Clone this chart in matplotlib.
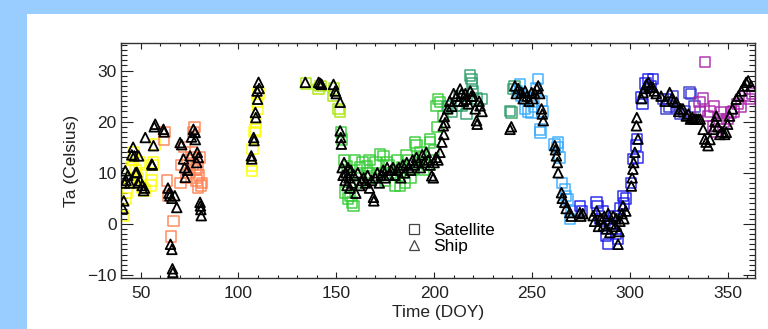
import matplotlib
matplotlib.use("Agg")
import matplotlib.pyplot as plt
from matplotlib.lines import Line2D
from matplotlib.patches import Rectangle
from matplotlib.ticker import MultipleLocator

plt.rcParams['font.family'] = ['Liberation Sans', 'DejaVu Sans']

# ---------------- data ----------------
leg_colors = ['#ffff00', '#ff8050', '#ffff00', '#a6e600', '#33cc33',
              '#2e9e6b', '#33aaff', '#1a1aee', '#3333cc', '#aa22aa']

sat_doy = [41.5, 42.5, 43.0, 45.0, 46.0, 47.5, 48.5, 50.0, 51.0, 52.0, 55.0, 55.5, 56.0, 56.5, 57.5, 46.5, 44.0, 49.5,
           62.0, 62.2, 63.5, 64.0, 66.8, 65.5, 70.5, 71.0, 72.5, 74.0, 76.0, 77.0, 77.5, 78.5, 79.0, 80.0, 80.5, 81.0, 81.5, 73.5, 75.0,
           76.5, 78.0, 79.5, 77.0,
           107.0, 107.0, 107.2, 108.2, 108.7, 109.0, 109.5, 110.3, 110.0,
           134.5, 141.0, 142.0, 148.6, 149.0, 151.2, 152.0,
           152.5, 153.0, 154.0, 154.6, 155.4, 156.0, 157.1, 158.0, 158.8, 159.5, 162.0, 165.6, 167.0, 170.0, 172.4, 174.1,
           176.0, 178.0, 180.0, 182.7, 185.0, 186.0, 188.0, 190.3, 191.1, 193.0, 195.0, 198.0, 198.0, 200.0, 201.4, 201.3,
           202.0, 203.0, 204.5, 162.0, 168.0, 175.0, 184.0,
           160.5, 163.5, 166.5, 171.0, 177.0, 181.0, 183.5, 187.0, 189.0, 192.0, 194.5, 196.5,
           207.0, 209.0, 211.5, 214.0, 216.6, 218.4, 219.2, 219.5, 220.0, 222.0, 224.3, 213.0, 238.8, 239.6, 240.5, 241.0,
           243.9, 244.5, 246.4, 248.0, 249.8, 251.0, 253.2, 254.1, 254.3, 255.0, 261.5, 263.4, 263.0, 264.0, 265.5, 266.8,
           267.5, 268.5, 269.4, 270.0, 242.5, 247.0, 252.0, 255.5,
           274.5, 275.5, 283.0, 283.5, 285.0, 286.0, 288.0, 288.9, 290.0, 291.0, 293.0, 295.0, 296.5, 297.0, 300.5, 301.6,
           303.3, 303.8, 304.0, 305.9, 306.5, 308.0, 309.3, 310.5, 311.8, 287.0, 292.0, 294.0, 298.0,
           316.9, 318.6, 318.6, 320.0, 322.0, 324.0, 326.0, 328.0, 330.5, 331.4, 333.0,
           338.3, 335.7, 336.0, 340.0, 341.0, 342.5, 344.0, 346.7, 348.0, 350.0, 351.8, 353.0, 355.0, 357.0, 359.0, 361.2,
           362.5, 337.5, 343.0, 345.5]
sat_ta = [1.5, 5.0, 6.0, 11.0, 12.5, 10.5, 9.0, 9.5, 7.0, 6.5, 7.5, 8.5, 11.5, 12.0, 15.5, 14.0, 8.5, 12.0,
          16.5, 18.0, 8.5, 5.5, 0.5, -2.5, 8.0, 11.5, 15.0, 12.5, 14.0, 18.0, 19.0, 8.5, 11.0, 9.5, 13.0, 7.5, 8.0, 9.0, 10.0,
          11.5, 10.5, 7.0, 13.0,
          11.3, 10.4, 14.6, 18.0, 18.5, 19.8, 23.9, 25.5, 22.5,
          27.5, 26.4, 27.0, 25.0, 26.5, 22.5, 22.0,
          18.0, 16.5, 12.5, 6.1, 11.3, 5.0, 5.5, 4.2, 3.5, 12.5, 11.0, 11.3, 12.5, 12.0, 13.6, 13.3,
          12.0, 10.0, 7.5, 7.4, 8.0, 13.5, 9.0, 15.9, 15.3, 14.0, 10.5, 16.6, 15.9, 14.5, 18.9, 23.1,
          24.4, 23.8, 21.1, 8.0, 9.0, 8.5, 10.0,
          9.5, 12.0, 10.0, 9.5, 11.5, 12.5, 11.0, 12.5, 10.5, 12.0, 13.0, 11.5,
          23.0, 22.0, 23.1, 23.1, 21.5, 29.0, 28.3, 27.5, 26.0, 24.5, 24.4, 25.0, 22.1, 21.8, 26.4, 27.0,
          27.3, 25.0, 22.5, 22.0, 21.8, 23.0, 28.3, 18.5, 17.9, 24.0, 15.5, 15.9, 15.0, 13.0, 8.0, 6.8,
          5.5, 4.8, 0.9, 2.5, 26.0, 24.5, 26.5, 22.0,
          3.5, 2.5, 4.2, 3.5, 1.0, 2.5, -2.3, -4.0, 0.0, -1.0, -2.0, 3.0, 5.5, 4.0, 8.0, 12.7,
          15.3, 16.6, 13.0, 24.7, 23.5, 27.5, 28.3, 27.0, 28.3, 0.5, 1.5, -3.0, 5.0,
          24.4, 22.5, 24.4, 23.0, 25.0, 22.5, 21.5, 22.0, 25.7, 25.4, 23.0,
          31.7, 23.8, 22.1, 21.1, 22.0, 19.2, 18.0, 21.8, 20.0, 20.5, 21.8, 22.0, 23.5, 23.0, 25.0, 24.4,
          25.5, 24.5, 23.0, 20.5]
sat_leg = ([0] * 18 + [1] * 25 + [2] * 9 + [3] * 7 + [4] * 51 + [5] * 16 + [6] * 24
           + [7] * 29 + [8] * 11 + [9] * 20)

ship_doy = [41.0, 41.4, 41.8, 42.2, 42.6, 43.5, 44.5, 45.5, 46.2, 46.8, 47.4, 48.1, 48.6, 49.0, 49.8, 50.8, 51.5,
            52.0, 52.4, 55.7, 56.0, 56.6, 57.0, 57.5,
            61.7, 62.0, 64.0, 64.5, 65.0, 66.0, 67.5, 68.5, 65.3, 66.0, 66.3, 66.5, 70.2, 71.0, 71.9, 72.5, 72.8, 74.0,
            75.3, 76.0, 77.0, 77.9, 78.0, 78.7, 79.0, 79.5, 80.4, 80.6, 80.8, 81.0,
            106.6, 106.8, 107.8, 108.0, 108.7, 108.9, 109.5, 109.8, 110.3, 110.6,
            134.2, 141.0, 141.8, 142.5, 148.6, 149.5, 150.0, 152.0,
            152.0, 152.3, 152.6, 153.0, 153.5, 154.0, 154.5, 155.0, 155.5, 156.0, 156.5, 157.0, 157.5, 158.0, 159.0,
            160.0, 161.0, 162.0, 163.0, 164.0, 165.0, 166.0, 167.0, 168.0, 169.0, 169.2, 170.0, 171.0, 172.0, 173.0,
            174.0, 175.0, 176.0, 177.0, 178.0, 179.0, 180.0, 181.0, 182.0, 183.0, 184.0, 185.0, 186.0, 187.0, 188.0,
            189.0, 190.0, 191.0, 192.0, 193.0, 194.0, 195.0, 196.0, 197.0, 198.0, 198.8, 199.6, 200.0, 201.0, 202.0,
            203.0, 204.0, 204.7, 205.2, 205.6, 205.0,
            207.0, 208.0, 209.0, 210.0, 211.5, 212.5, 213.3, 214.0, 215.0, 216.0, 216.6, 217.5, 218.5, 219.0, 220.0,
            221.0, 221.7, 222.0, 223.0, 223.5, 224.5, 238.8, 239.5,
            241.3, 242.0, 243.0, 244.7, 245.5, 246.5, 247.5, 248.5, 249.8, 250.5, 251.5, 252.5, 253.2, 254.0, 254.9,
            255.3, 255.8, 261.7, 262.0, 262.5, 263.0, 263.4, 265.1, 265.5, 266.8, 267.5, 269.4, 270.0,
            274.5, 275.0, 276.0, 281.3, 282.0, 283.0, 284.0, 285.0, 286.4, 287.0, 288.0, 289.0, 289.8, 290.5, 291.5,
            292.5, 293.0, 294.0, 294.5, 295.0, 296.0, 296.5, 297.0, 298.0, 300.8, 301.2, 301.6, 302.0, 302.6, 303.4,
            303.6, 304.2, 306.0, 306.8, 307.5, 308.5, 309.5, 310.5, 311.8,
            312.5, 313.5, 316.0, 318.0, 320.4, 321.5, 322.5, 323.8, 325.0, 326.0, 327.2, 328.9, 330.0, 331.0, 332.0,
            333.0, 334.0, 335.0,
            336.0, 337.5, 338.3, 339.0, 340.0, 341.0, 342.5, 343.5, 344.2, 345.0, 346.0, 347.0, 348.5, 349.3, 350.0,
            351.0, 352.5, 354.4, 355.5, 357.0, 358.5, 359.5, 360.5, 362.0]
ship_ta = [3.0, 4.5, 8.0, 10.4, 8.5, 9.5, 8.0, 13.5, 15.0, 13.3, 10.0, 10.1, 8.0, 13.3, 8.4, 7.5, 6.5,
           7.0, 16.9, 11.7, 11.5, 15.3, 19.0, 19.5,
           18.5, 18.0, 7.0, 6.0, 5.5, 5.0, 5.5, 3.2, -4.0, -5.0, -8.8, -9.5, 15.9, 15.5, 12.7, 11.0, 9.1, 10.5,
           13.3, 17.0, 18.5, 17.9, 16.5, 12.0, 14.0, 13.0, 4.2, 3.5, 2.8, 1.6,
           13.3, 12.7, 16.9, 16.3, 21.8, 20.8, 26.0, 24.4, 27.7, 26.5,
           27.7, 27.7, 27.5, 27.3, 27.3, 26.0, 25.5, 23.8,
           18.2, 16.9, 15.6, 11.0, 9.5, 12.0, 8.5, 10.0, 7.5, 11.0, 9.0, 7.0, 10.5, 8.0, 9.5,
           6.0, 10.0, 7.5, 8.5, 9.0, 8.0, 9.5, 7.0, 8.5, 5.2, 4.5, 9.0, 10.0, 8.0, 9.5,
           10.5, 9.0, 11.0, 9.5, 10.5, 11.0, 9.5, 10.5, 11.0, 9.0, 11.5, 10.0, 12.0, 11.0, 10.5,
           12.5, 11.5, 13.0, 12.0, 11.0, 13.5, 12.0, 14.0, 12.5, 11.5, 9.4, 9.0, 12.0, 13.0, 12.5,
           14.0, 16.0, 19.2, 21.0, 19.8, 17.5,
           22.5, 24.0, 23.0, 25.5, 25.0, 24.0, 26.4, 25.5, 24.0, 25.5, 24.4, 23.5, 26.0, 25.0, 25.0,
           22.5, 20.2, 19.5, 24.0, 23.1, 22.0, 18.5, 19.0,
           27.0, 25.5, 26.5, 25.7, 24.5, 26.0, 25.0, 24.0, 25.7, 24.5, 25.5, 26.5, 27.0, 25.5, 22.5,
           21.5, 20.2, 15.3, 14.5, 13.3, 12.0, 10.0, 6.1, 5.0, 4.2, 3.0, 2.2, 1.5,
           2.2, 1.5, 2.0, 1.6, 0.5, 2.5, -0.5, 1.0, -0.4, 1.5, -1.0, 2.0, -1.7, 0.0, 1.5,
           -0.5, 1.0, -4.0, -1.5, 0.5, 2.0, 3.5, 1.0, 2.5, 7.4, 9.0, 10.7, 12.0, 14.0, 19.2,
           20.8, 16.6, 24.5, 25.7, 26.5, 27.3, 27.7, 26.8, 26.7,
           26.0, 25.5, 25.0, 24.0, 25.7, 24.5, 24.0, 23.8, 22.0, 22.5, 22.5, 21.1, 21.5, 20.5, 20.8,
           20.5, 20.5, 20.5,
           20.5, 18.5, 16.6, 16.0, 15.3, 16.5, 18.5, 20.0, 21.1, 19.0, 17.5, 18.0, 17.5, 17.9, 19.5,
           21.1, 22.5, 24.4, 25.0, 26.0, 27.0, 27.7, 28.0, 27.0]

x_ticks = [50, 100, 150, 200, 250, 300, 350]
y_ticks = [-10, 0, 10, 20, 30]

# ---------------- figure ----------------
W, H = 768, 329
fig = plt.figure(figsize=(W / 100, H / 100), dpi=100)
fig.patch.set_facecolor('#99ccff')
fig.patches.append(Rectangle((27 / W, 0), 1 - 27 / W, (H - 14) / H, transform=fig.transFigure,
                             facecolor='white', edgecolor='none', zorder=-10))

ax = fig.add_axes([121 / W, (H - 278) / H, (755 - 121) / W, (278 - 43) / H])
ax.set_zorder(5)
ax.set_facecolor('white')

sat_cols = [leg_colors[i] for i in sat_leg]
ax.scatter(sat_doy, sat_ta, marker='s', s=56, facecolors='none', edgecolors=sat_cols,
           linewidths=1.1, alpha=0.9, zorder=2)
ax.scatter(ship_doy, ship_ta, marker='^', s=48, facecolors='none', edgecolors='black',
           linewidths=1.3, zorder=3)

ax.set_xlim(40, 364)
ax.set_ylim(-10.6, 35.4)
ax.set_xticks(x_ticks)
ax.set_yticks(y_ticks)
ax.xaxis.set_minor_locator(MultipleLocator(10))
ax.yaxis.set_minor_locator(MultipleLocator(1))
ax.tick_params(axis='x', which='major', direction='in', length=4.5, width=0.8, top=True,
               labelsize=12.5, pad=6, colors='#222222')
ax.tick_params(axis='x', which='minor', direction='in', length=2.3, width=0.8, top=True, colors='#222222')
ax.tick_params(axis='y', which='major', direction='in', length=8.8, width=0.8, right=True,
               labelsize=12.5, pad=3, colors='#222222')
ax.tick_params(axis='y', which='minor', direction='in', length=4.4, width=0.8, right=True, colors='#222222')
for sp in ax.spines.values():
    sp.set_color('#333333')
    sp.set_linewidth(1.0)

ax.set_xlabel('Time (DOY)', fontsize=12.5, color='#222222', labelpad=3)
ax.set_ylabel('Ta (Celsius)', fontsize=12.5, color='#222222', labelpad=6)

handles = [Line2D([], [], linestyle='none', marker='s', markersize=6.5, markerfacecolor='none',
                  markeredgecolor='#444444', markeredgewidth=0.9),
           Line2D([], [], linestyle='none', marker='^', markersize=7, markerfacecolor='none',
                  markeredgecolor='#444444', markeredgewidth=0.9)]
ax.legend(handles, ['Satellite', 'Ship'], loc='center left', bbox_to_anchor=(0.448, 0.17),
          frameon=False, fontsize=12.5, handlelength=1.0, handletextpad=0.6, labelspacing=0.05,
          borderpad=0, borderaxespad=0)

fig.savefig('out.png', dpi=100, facecolor=fig.get_facecolor())
